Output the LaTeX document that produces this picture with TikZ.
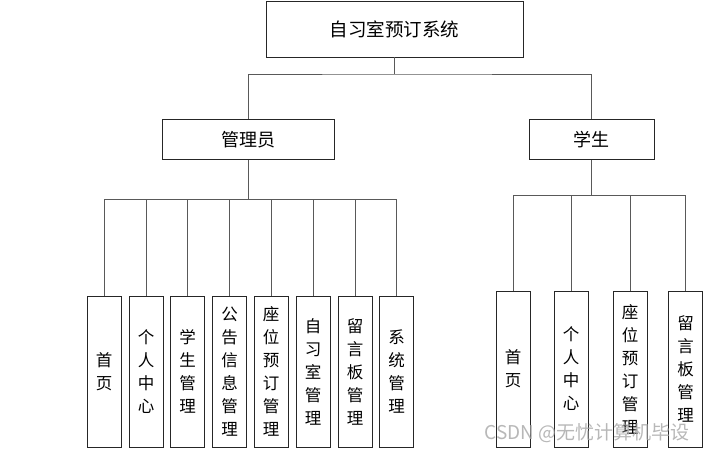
\documentclass[tikz,border=0pt]{standalone}
\usepackage{fontspec}
\setmainfont{Noto Sans CJK SC}
\usetikzlibrary{positioning,calc}

\tikzset{
  box/.style={draw=black!85, line width=0.9pt, fill=white, inner sep=0pt},
  topbox/.style={box, minimum width=257pt, minimum height=56pt, font=\fontsize{18.5}{18.5}\selectfont},
  rolebox/.style={box, minimum height=40pt, font=\fontsize{18}{18}\selectfont},
  leaf/.style={box, minimum width=34pt, align=center, font=\fontsize{16.5}{23}\selectfont},
  link/.style={draw=black!65, line width=0.9pt}
}

\begin{document}
\begin{tikzpicture}[x=1pt, y=-1pt]
\useasboundingbox (0,0) rectangle (708,452);

\node[topbox] (R) at (394.5,29) {自习室预订系统};
\node[rolebox, minimum width=172pt] (A) at (248,139.5) {管理员};
\node[rolebox, minimum width=125pt] (S) at (591.5,139.5) {学生};

% admin leaves
\node[leaf, minimum height=151pt] (A1) at (104,371.5) {首\\页};
\node[leaf, minimum height=151pt] (A2) at (146,371.5) {个\\人\\中\\心};
\node[leaf, minimum height=151pt] (A3) at (187.5,371.5) {学\\生\\管\\理};
\node[leaf, minimum height=151pt] (A4) at (229.5,371.5) {公\\告\\信\\息\\管\\理};
\node[leaf, minimum height=151pt] (A5) at (271,371.5) {座\\位\\预\\订\\管\\理};
\node[leaf, minimum height=151pt] (A6) at (313,371.5) {自\\习\\室\\管\\理};
\node[leaf, minimum height=151pt] (A7) at (355,371.5) {留\\言\\板\\管\\理};
\node[leaf, minimum height=151pt] (A8) at (396.5,371.5) {系\\统\\管\\理};

% student leaves
\node[leaf, minimum height=156pt] (S1) at (513,369) {首\\页};
\node[leaf, minimum height=156pt] (S2) at (571,369) {个\\人\\中\\心};
\node[leaf, minimum height=156pt] (S3) at (630,369) {座\\位\\预\\订\\管\\理};
\node[leaf, minimum height=156pt] (S4) at (685.5,369) {留\\言\\板\\管\\理};

\coordinate (Rj) at (R.south |- 0,74);
\coordinate (Aj) at (A.south |- 0,199);
\coordinate (Sj) at (S.south |- 0,195);

\draw[link] (R.south) -- (Rj);
\draw[link] (A.north) |- (Rj) -| (S.north);

\draw[link] (A.south) -- (Aj);
\foreach \i in {1,...,8}
  \draw[link] (Aj) -| (A\i.north);

\draw[link] (S.south) -- (Sj);
\foreach \i in {1,...,4}
  \draw[link] (Sj) -| (S\i.north);

\node[text=black!35, font=\fontsize{19}{19}\selectfont, opacity=0.8] (wm) at (587,433) {CSDN @无忧计算机毕设};
\end{tikzpicture}
\end{document}
